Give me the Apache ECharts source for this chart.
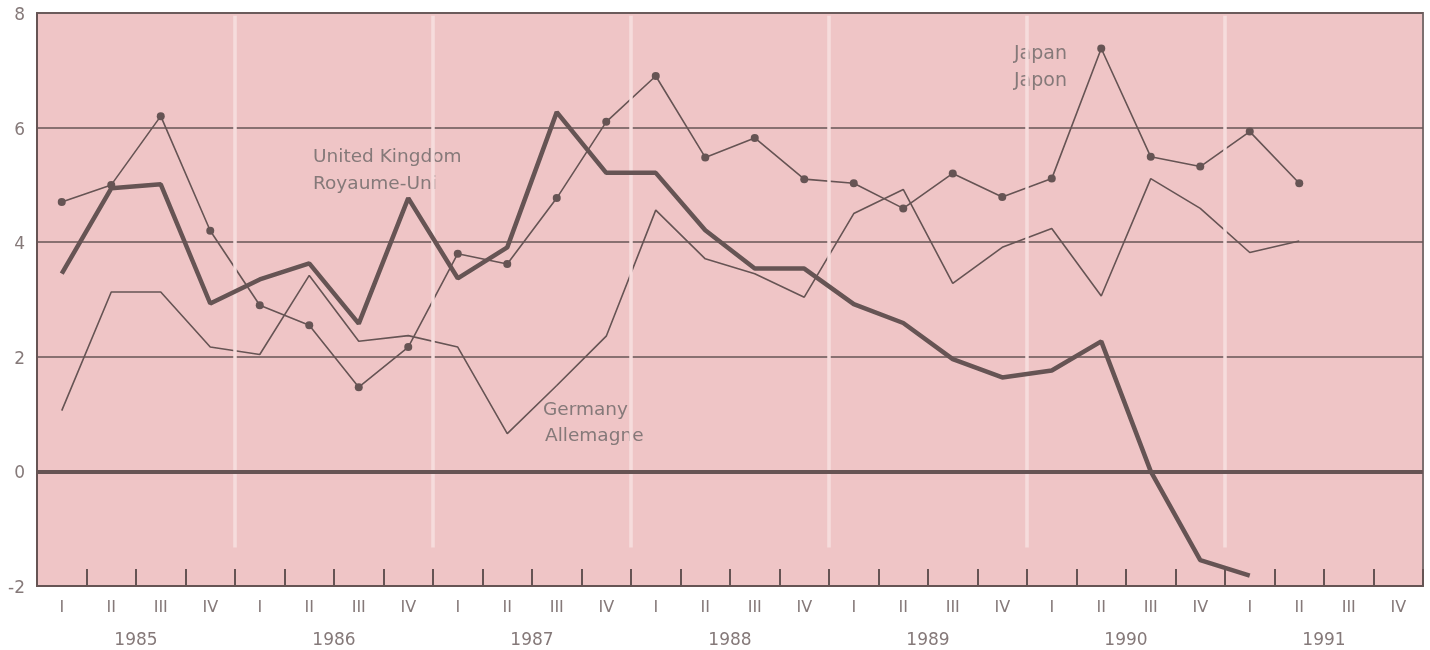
<!DOCTYPE html>
<html><head><meta charset="utf-8">
<script src="https://cdn.jsdelivr.net/npm/echarts@6/dist/echarts.min.js"></script>
<style>html,body{margin:0;padding:0;background:#fff}#c{width:1430px;height:650px}</style>
</head><body><div id="c"></div>
<script>
const quarters = ['I','II','III','IV'];
const years = ['1985','1986','1987','1988','1989','1990','1991'];
const categories = [];
years.forEach(y => quarters.forEach(q => categories.push(y + '-' + q)));
const yTicks = [-2, 0, 2, 4, 6, 8];
const japan = [4.7,5.0,6.2,4.2, 2.9,2.55,1.47,2.17, 3.8,3.62,4.77,6.1, 6.9,5.48,5.82,5.1, 5.03,4.59,5.2,4.79, 5.11,7.38,5.49,5.32, 5.93,5.03,null,null];
const uk = [3.45,4.94,5.01,2.93, 3.35,3.63,2.58,4.77, 3.37,3.91,6.27,5.21, 5.21,4.21,3.54,3.54, 2.92,2.59,1.96,1.64, 1.76,2.27,0.0,-1.55, -1.82,null,null,null];
const germany = [1.06,3.13,3.13,2.17, 2.04,3.42,2.27,2.37, 2.17,0.66,1.5,2.36, 4.56,3.71,3.45,3.04, 4.5,4.92,3.28,3.91, 4.24,3.06,5.11,4.59, 3.82,4.02,null,null];
const yearBoundaries = [4, 8, 12, 16, 20, 24];

const ink = '#665454';
const txt = '#857979';
const font = '"DejaVu Sans", "Liberation Sans", sans-serif';

const chart = echarts.init(document.getElementById('c'), null, {renderer:'canvas'});
chart.setOption({
  animation: false,
  backgroundColor: '#ffffff',
  grid: {left: 37, right: 7, top: 13, bottom: 64, show: true, backgroundColor: '#efc5c6', borderColor: '#7d7070', borderWidth: 2},
  xAxis: [
    {type: 'category', data: categories, boundaryGap: true,
     axisLine: {show: true, onZero: false, lineStyle: {color: ink, width: 2}},
     axisTick: {show: true, inside: true, length: 17, interval: 0, lineStyle: {color: ink, width: 2}},
     axisLabel: {interval: 0, margin: 14, color: txt, fontSize: 16, fontFamily: font,
       formatter: v => v.split('-')[1]},
     splitLine: {show: false}},
    {type: 'category', data: years, position: 'bottom', offset: 34, boundaryGap: true,
     axisLine: {show: false}, axisTick: {show: false},
     axisLabel: {interval: 0, color: txt, fontSize: 17, fontFamily: font, margin: 12}},
    {type: 'value', min: 0, max: 28, show: false}
  ],
  yAxis: {type: 'value', min: -2, max: 8, interval: 2,
    axisLine: {show: true, lineStyle: {color: ink, width: 2}},
    axisTick: {show: false},
    axisLabel: {color: txt, fontSize: 17, fontFamily: font, margin: 12, verticalAlign: 'top', lineHeight: 5,
      formatter: v => yTicks.includes(v) ? String(v) : ''},
    splitLine: {show: true, lineStyle: {color: ink, width: 1.6}}
  },
  series: [
    {type: 'line', xAxisIndex: 2, data: [[0, 0]], symbol: 'none', lineStyle: {width: 0}, silent: true, z: 1,
     markLine: {silent: true, symbol: 'none', label: {show: false},
       lineStyle: {color: '#f6dcdc', width: 3.5, type: 'solid'},
       data: yearBoundaries.map(b => [{coord: [b, 7.95]}, {coord: [b, -1.33]}])}},
    {type: 'line', xAxisIndex: 2, data: [[0, 0]], symbol: 'none', lineStyle: {width: 0}, silent: true, z: 2,
     markLine: {silent: true, symbol: 'none', label: {show: false},
       lineStyle: {color: ink, width: 4, type: 'solid'},
       data: [[{coord: [0, 0]}, {coord: [28, 0]}]]}},
    {name: 'Germany', type: 'line', data: germany, symbol: 'none', z: 3,
     lineStyle: {color: ink, width: 1.6}},
    {name: 'Japan', type: 'line', data: japan, symbol: 'circle', symbolSize: 8, showAllSymbol: true, z: 4,
     itemStyle: {color: ink, borderWidth: 0}, lineStyle: {color: ink, width: 1.6}},
    {name: 'United Kingdom', type: 'line', data: uk, symbol: 'none', z: 5,
     lineStyle: {color: ink, width: 4.5}}
  ],
  graphic: [
    {type: 'text', left: 313, top: 148, style: {text: 'United Kingdom', fill: txt, font: '18.5px ' + font}},
    {type: 'text', left: 313, top: 175, style: {text: 'Royaume-Uni', fill: txt, font: '18.5px ' + font}},
    {type: 'text', left: 543, top: 401, style: {text: 'Germany', fill: txt, font: '18.5px ' + font}},
    {type: 'text', left: 545, top: 427, style: {text: 'Allemagne', fill: txt, font: '18.5px ' + font}},
    {type: 'text', left: 1014, top: 45, style: {text: 'Japan', fill: txt, font: '19px ' + font}},
    {type: 'text', left: 1014, top: 72, style: {text: 'Japon', fill: txt, font: '19px ' + font}}
  ]
});
</script></body></html>
